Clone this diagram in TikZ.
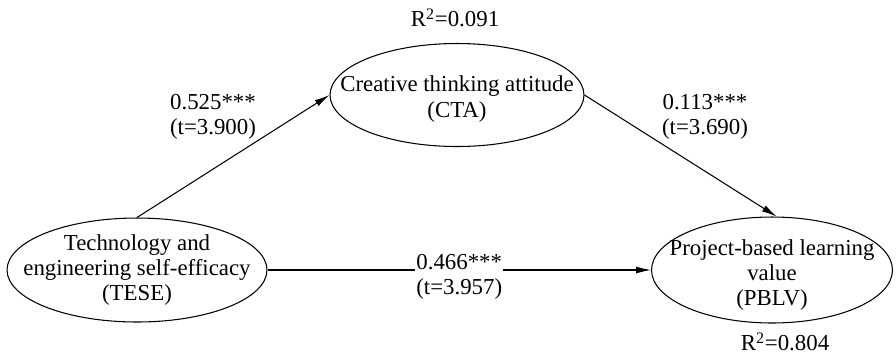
\documentclass[tikz,border=0pt]{standalone}
\usepackage{fontspec}
\setmainfont{Liberation Serif}
\usetikzlibrary{positioning, arrows.meta, shapes.geometric}

\begin{document}
\begin{tikzpicture}[x=0.02cm, y=-0.02cm, font=\fontsize{13}{14.4}\selectfont,
                    line width=0.6pt,
                    every node/.style={align=center, inner sep=1pt},
                    latent/.style={ellipse, draw, inner sep=0pt},
                    path/.style={-{Latex[length=3mm, width=1.4mm]}}]
  \useasboundingbox (0,0) rectangle (896,360);

  % Constructs
  \node[latent, minimum width=5.2cm, minimum height=2.08cm,
        label={[align=center]center:{Technology and\\engineering self-efficacy\\(TESE)}}]
       (tese) at (137,270) {};
  \node[latent, minimum width=5.08cm, minimum height=2.06cm,
        label={[align=center, yshift=-0.08cm]center:{Creative thinking attitude\\(CTA)}}]
       (cta) at (457,95) {};
  \node[latent, minimum width=4.82cm, minimum height=2.12cm,
        label={[align=center, yshift=-0.1cm]center:{Project-based learning\\value\\(PBLV)}}]
       (pblv) at (772,270) {};

  % R squared
  \node (r2cta) at (455,18) {R\textsuperscript{2}=0.091};
  \node (r2pblv) at (785,342) {R\textsuperscript{2}=0.804};

  % Paths
  \draw[path] (tese.north) -- (cta.west);
  \draw[path] (cta.east) -- (pblv.85);
  \draw[path] (tese.east) -- node[fill=white, inner sep=0.5pt, yshift=-0.14cm] (w3) {0.466***\\(t=3.957)} (pblv.west);
  \node (w1) at (213,117) {0.525***\\(t=3.900)};
  \node (w2) at (705,117) {0.113***\\(t=3.690)};
\end{tikzpicture}
\end{document}
